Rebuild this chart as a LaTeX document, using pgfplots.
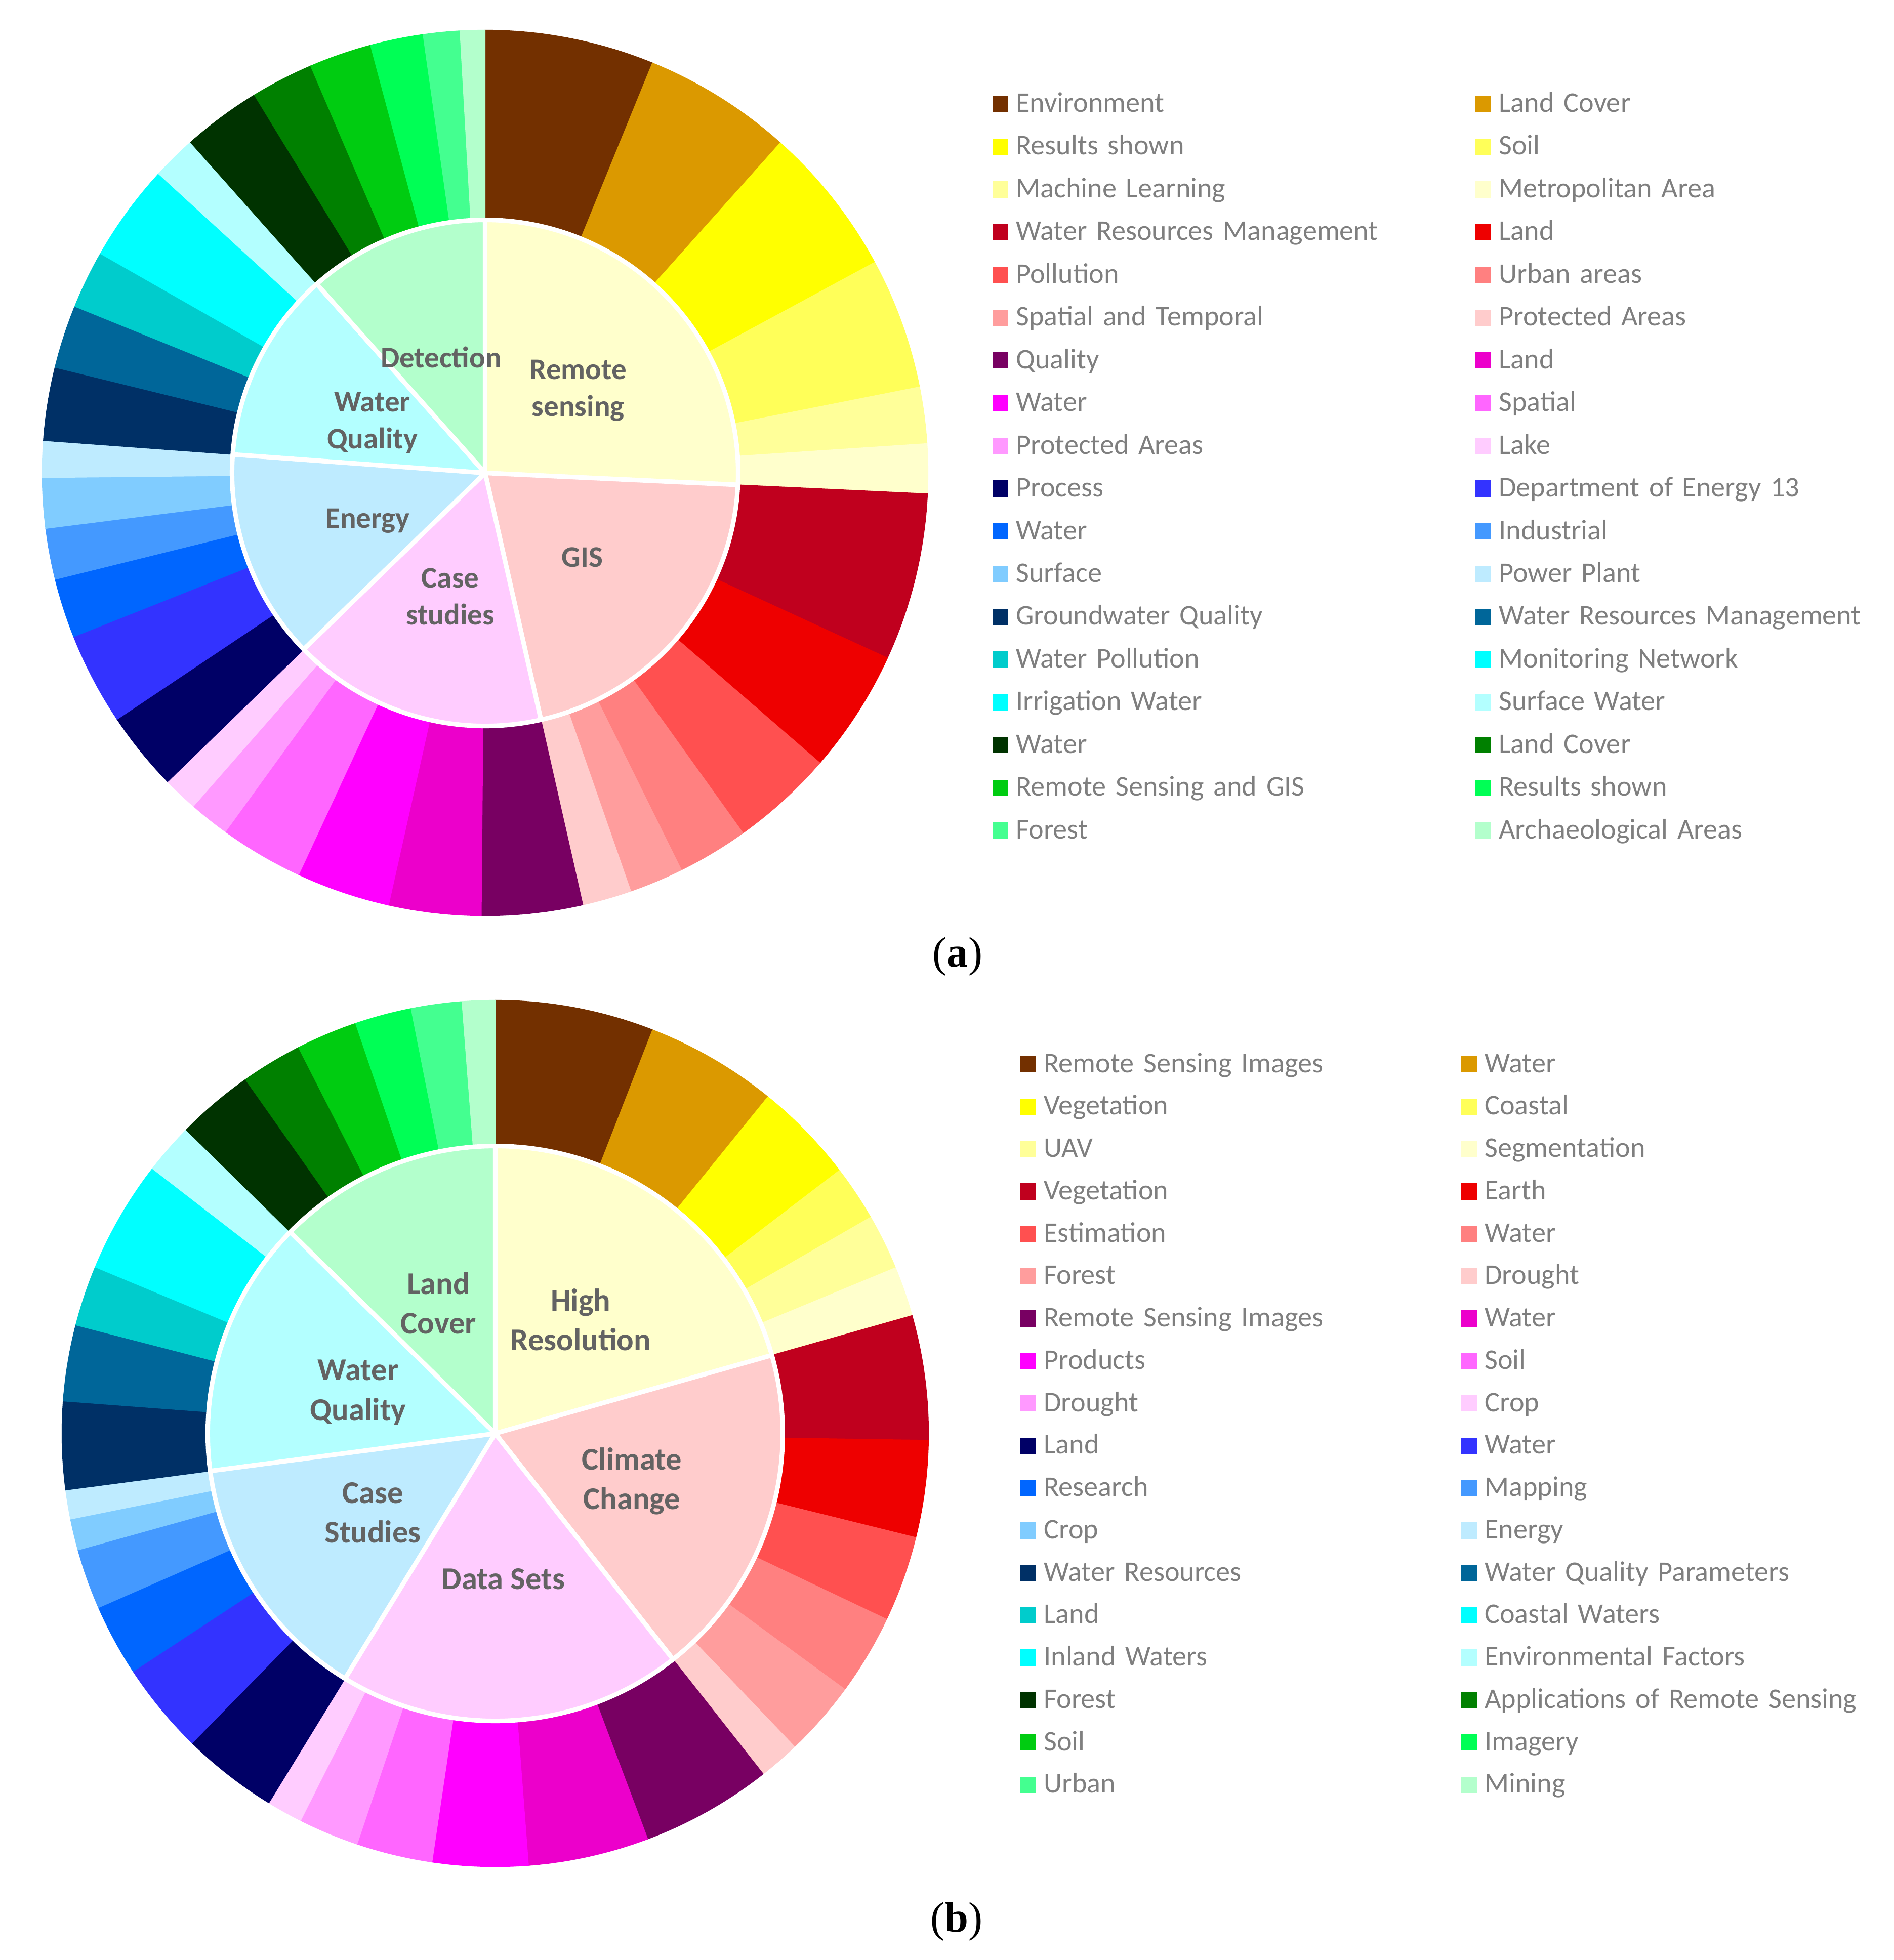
\documentclass[border=0pt]{standalone}
\usepackage{pgfplots}
\pgfplotsset{compat=1.18}
\usepackage{pgfplotstable}
\usepackage{fontspec}
\setmainfont{Carlito}
\newfontfamily\capserif{Liberation Serif}

% colour families, one per inner group (light shade = inner slice)
\definecolor{c11}{HTML}{733000}\definecolor{c12}{HTML}{DB9900}\definecolor{c13}{HTML}{FFFF00}
\definecolor{c14}{HTML}{FFFF59}\definecolor{c15}{HTML}{FFFF99}\definecolor{c16}{HTML}{FFFFCC}
\definecolor{c21}{HTML}{C0001E}\definecolor{c22}{HTML}{EE0000}\definecolor{c23}{HTML}{FF5050}
\definecolor{c24}{HTML}{FF8080}\definecolor{c25}{HTML}{FF9D9D}\definecolor{c26}{HTML}{FFCCCC}
\definecolor{c31}{HTML}{780062}\definecolor{c32}{HTML}{EC00CB}\definecolor{c33}{HTML}{FF00FF}
\definecolor{c34}{HTML}{FF66FF}\definecolor{c35}{HTML}{FF99FF}\definecolor{c36}{HTML}{FFCCFF}
\definecolor{c41}{HTML}{000066}\definecolor{c42}{HTML}{3333FF}\definecolor{c43}{HTML}{0066FF}
\definecolor{c44}{HTML}{4499FF}\definecolor{c45}{HTML}{80CCFF}\definecolor{c46}{HTML}{BEEBFF}
\definecolor{c51}{HTML}{003066}\definecolor{c52}{HTML}{006699}\definecolor{c53}{HTML}{00CCCC}
\definecolor{c54}{HTML}{00FFFF}\definecolor{c55}{HTML}{00FFFF}\definecolor{c56}{HTML}{B3FFFF}
\definecolor{c61}{HTML}{003300}\definecolor{c62}{HTML}{008000}\definecolor{c63}{HTML}{00CC11}
\definecolor{c64}{HTML}{00FF55}\definecolor{c65}{HTML}{44FF90}\definecolor{c66}{HTML}{B3FFCC}
\definecolor{leggray}{HTML}{7F7F7F}
\definecolor{labgray}{HTML}{636363}

\newcommand\legfont{\fontsize{16}{19.2}\selectfont}

% segment sizes in degrees, clockwise from 12 o'clock
\pgfplotstableread[col sep=comma]{
deg,col,label
22.2,c11,Environment
19.6,c12,Land Cover
19.8,c13,Results shown
17.2,c14,Soil
7.4,c15,Machine Learning
6.5,c16,Metropolitan Area
22.0,c21,Water Resources Management
16.2,c22,Land
13.5,c23,Pollution
9.3,c24,Urban areas
7.1,c25,Spatial and Temporal
6.45,c26,Protected Areas
13.25,c31,Quality
12.1,c32,Land
12.3,c33,Water
11.0,c34,Spatial
5.3,c35,Protected Areas
4.6,c36,Lake
10.4,c41,Process
12.1,c42,Department of Energy 13
7.8,c43,Water
6.7,c44,Industrial
6.6,c45,Surface
4.8,c46,Power Plant
9.6,c51,Groundwater Quality
8.3,c52,Water Resources Management
7.6,c53,Water Pollution
6.4,c54,Monitoring Network
6.4,c55,Irrigation Water
5.8,c56,Surface Water
10.3,c61,Water
8.2,c62,Land Cover
8.2,c63,Remote Sensing and GIS
6.95,c64,Results shown
4.8,c65,Forest
3.25,c66,Archaeological Areas
}\outerA

\pgfplotstableread[col sep=comma]{
deg,col
92.7,c16
74.55,c26
58.55,c36
48.4,c46
44.1,c56
41.7,c66
}\innerA

\pgfplotstableread[col sep=comma]{
deg,col,label
21.3,c11,Remote Sensing Images
17.7,c12,Water
13.6,c13,Vegetation
7.45,c14,Coastal
7.45,c15,UAV
6.7,c16,Segmentation
16.7,c21,Vegetation
13.0,c22,Earth
11.5,c23,Estimation
10.8,c24,Water
10.1,c25,Forest
5.5,c26,Drought
17.6,c31,Remote Sensing Images
16.2,c32,Water
12.8,c33,Products
10.2,c34,Soil
8.1,c35,Drought
4.8,c36,Crop
12.9,c41,Land
12.3,c42,Water
9.6,c43,Research
8.1,c44,Mapping
4.2,c45,Crop
3.9,c46,Energy
11.8,c51,Water Resources
10.2,c52,Water Quality Parameters
8.1,c53,Land
7.55,c54,Coastal Waters
7.55,c55,Inland Waters
6.8,c56,Environmental Factors
10.3,c61,Forest
8.2,c62,Applications of Remote Sensing
8.2,c63,Soil
7.6,c64,Imagery
6.8,c65,Urban
4.4,c66,Mining
}\outerB

\pgfplotstableread[col sep=comma]{
deg,col
74.2,c16
67.6,c26
69.7,c36
51.0,c46
52.0,c56
45.5,c66
}\innerB

% outer ring: #1 table, #2 inner radius, #3 outer radius
\newcommand\outerring[3]{%
  \pgfplotstablegetrowsof{#1}%
  \pgfmathtruncatemacro\nlast{\pgfplotsretval-1}%
  \def\cum{0}%
  \pgfplotsforeachungrouped \i in {0,...,\nlast}{%
    \pgfplotstablegetelem{\i}{deg}\of#1\let\val\pgfplotsretval
    \pgfplotstablegetelem{\i}{col}\of#1\let\col\pgfplotsretval
    \pgfplotstablegetelem{\i}{label}\of#1\let\lab\pgfplotsretval
    \pgfmathsetmacro\sa{90-\cum}%
    \pgfmathsetmacro\cum{\cum+\val}%
    \pgfmathsetmacro\ea{90-\cum}%
    \edef\temp{%
      \noexpand\filldraw[fill=\col,draw=\col,line width=0.4pt,shift={(axis cs:0,0)}]
        (\sa:#2) -- (\sa:#3) arc[start angle=\sa,end angle=\ea,radius=#3]
        -- (\ea:#2) arc[start angle=\ea,end angle=\sa,radius=#2] -- cycle;
      \noexpand\addlegendimage{fill=\col,draw=none}%
      \noexpand\addlegendentry{\lab}%
    }\temp
  }%
}
% inner pie: #1 table, #2 radius
\newcommand\innerpie[2]{%
  \pgfplotstablegetrowsof{#1}%
  \pgfmathtruncatemacro\nlast{\pgfplotsretval-1}%
  \def\cum{0}%
  \pgfplotsforeachungrouped \i in {0,...,\nlast}{%
    \pgfplotstablegetelem{\i}{deg}\of#1\let\val\pgfplotsretval
    \pgfplotstablegetelem{\i}{col}\of#1\let\col\pgfplotsretval
    \pgfmathsetmacro\sa{90-\cum}%
    \pgfmathsetmacro\cum{\cum+\val}%
    \pgfmathsetmacro\ea{90-\cum}%
    \edef\temp{%
      \noexpand\filldraw[fill=\col,draw=white,line width=0.09cm,line join=round,shift={(axis cs:0,0)}]
        (0pt,0pt) -- (\sa:#2) arc[start angle=\sa,end angle=\ea,radius=#2] -- cycle;
    }\temp
  }%
}

\pgfplotsset{
  sunburst/.style={
    x=0.01cm, y=0.01cm, hide axis, clip=false, anchor=south west,
    legend columns=2, legend cell align=left,
    legend image code/.code={\fill[##1] (0cm,-0.162cm) rectangle (0.31cm,0.162cm);},
    legend style={anchor=north west, draw=none, fill=none, inner sep=0pt, outer sep=0pt,
      column sep=0.155cm, font=\legfont, text=leggray},
  },
}
\tikzset{
  lab/.style 2 args={font=\bfseries\fontsize{#1}{#2}\selectfont, text=labgray, align=center},
}

\begin{document}
\begin{tikzpicture}
\useasboundingbox (0,0) rectangle (37.42cm,38.73cm);

% (a)
\begin{axis}[sunburst, at={(0cm,19.23cm)},
  xmin=-959, xmax=2783, ymin=-1016, ymax=934,
  legend style={at={(axis description cs:0.52432,0.90846)}, row sep=0.3245cm,
    nodes={inner sep=0pt, text height=0.42cm, text depth=0.10cm, text width=8.92cm, align=left}}]
\outerring{\outerA}{5.00cm}{8.75cm}
\innerpie{\innerA}{5.00cm}
\node[lab={16.8}{20.8}] at (axis cs:184,163) {Remote\\sensing};
\node[lab={16.8}{20.8}] at (axis cs:192,-167) {GIS};
\node[lab={16.8}{20.8}] at (axis cs:-69,-244) {Case\\studies};
\node[lab={16.8}{20.8}] at (axis cs:-232,-95) {Energy};
\node[lab={16.8}{20.8}] at (axis cs:-223,99) {Water\\Quality};
\node[lab={16.8}{20.8}] at (axis cs:-87,229) {Detection};
\end{axis}

% (b)
\begin{axis}[sunburst, at={(0cm,0cm)},
  xmin=-979, xmax=2763, ymin=-1041, ymax=882,
  legend style={at={(axis description cs:0.53902,0.93448)}, row sep=0.3175cm,
    nodes={inner sep=0pt, text height=0.42cm, text depth=0.10cm, text width=8.09cm, align=left}}]
\outerring{\outerB}{5.68cm}{8.56cm}
\innerpie{\innerB}{5.68cm}
\node[lab={17.8}{22.2}] at (axis cs:169,225) {High\\Resolution};
\node[lab={17.8}{22.2}] at (axis cs:270,-94) {Climate\\Change};
\node[lab={17.8}{22.2}] at (axis cs:16,-288) {Data Sets};
\node[lab={17.8}{22.2}] at (axis cs:-242,-157) {Case\\Studies};
\node[lab={17.8}{22.2}] at (axis cs:-271,81) {Water\\Quality};
\node[lab={17.8}{22.2}] at (axis cs:-112,258) {Land\\Cover};
\end{axis}

\node[font=\capserif\fontsize{24}{28}\selectfont] at (18.92cm,19.83cm) {(\textbf{a})};
\node[font=\capserif\fontsize{24}{28}\selectfont] at (18.90cm,0.76cm) {(\textbf{b})};
\end{tikzpicture}
\end{document}
